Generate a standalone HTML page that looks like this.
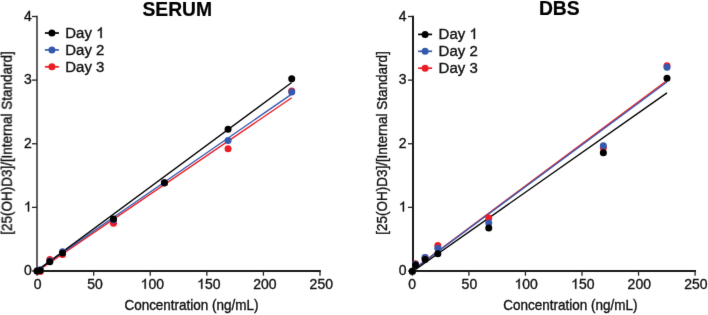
<!DOCTYPE html>
<html><head><meta charset="utf-8"><style>
html,body{margin:0;padding:0;background:#fff;width:708px;height:315px;overflow:hidden}
svg{display:block;will-change:transform}
text{font-family:"Liberation Sans",sans-serif;fill:#111111;stroke:#111111;stroke-width:0.35px}
.one{fill:#111111;stroke:#111111;stroke-width:50px}
.t{font-size:14px}
.lg{font-size:15px}
.ax{font-size:13.5px}
.title{font-size:19.3px;font-weight:bold;fill:#000;stroke:#000;stroke-width:0.2px}
</style></head><body>
<svg width="708" height="315" viewBox="0 0 708 315">
<defs><filter id="b" x="0" y="0" width="100%" height="100%" filterUnits="userSpaceOnUse" color-interpolation-filters="sRGB"><feConvolveMatrix order="3" kernelMatrix="0.00524 0.06192 0.00524 0.06192 0.73137 0.06192 0.00524 0.06192 0.00524" edgeMode="duplicate" preserveAlpha="true"/></filter></defs>
<rect width="708" height="315" fill="#fff"/>
<g filter="url(#b)">
<rect width="708" height="315" fill="#fff"/>
<line x1="37.0" y1="15.7" x2="37.0" y2="272" stroke="#606060" stroke-width="2"/>
<line x1="36.00" y1="271" x2="320.80" y2="271" stroke="#1c1c1c" stroke-width="2"/>
<line x1="32.00" y1="271.00" x2="37.0" y2="271.00" stroke="#222" stroke-width="1.3"/>
<text transform="translate(23.91,275.10) scale(1,1.035)" class="t">0</text>
<line x1="32.00" y1="207.38" x2="37.0" y2="207.38" stroke="#222" stroke-width="1.3"/>
<path class="one" transform="translate(23.91,211.47) scale(0.006836,-0.007075)" d="M763 0H583V1098Q518 1039 412 979T223 890V1057Q373 1125 485 1221T645 1409H763Z"/>
<line x1="32.00" y1="143.75" x2="37.0" y2="143.75" stroke="#222" stroke-width="1.3"/>
<text transform="translate(23.91,147.85) scale(1,1.035)" class="t">2</text>
<line x1="32.00" y1="80.12" x2="37.0" y2="80.12" stroke="#222" stroke-width="1.3"/>
<text transform="translate(23.91,84.22) scale(1,1.035)" class="t">3</text>
<line x1="32.00" y1="16.50" x2="37.0" y2="16.50" stroke="#222" stroke-width="1.3"/>
<text transform="translate(23.91,20.60) scale(1,1.035)" class="t">4</text>
<line x1="37.10" y1="271" x2="37.10" y2="275.7" stroke="#222" stroke-width="1.3"/>
<text transform="translate(33.85,288.80) scale(1,1.035)" class="t">0</text>
<line x1="93.68" y1="271" x2="93.68" y2="275.7" stroke="#222" stroke-width="1.3"/>
<text transform="translate(87.31,288.80) scale(1,1.035)" class="t">50</text>
<line x1="150.26" y1="271" x2="150.26" y2="275.7" stroke="#222" stroke-width="1.3"/>
<path class="one" transform="translate(140.60,288.80) scale(0.006836,-0.007075)" d="M763 0H583V1098Q518 1039 412 979T223 890V1057Q373 1125 485 1221T645 1409H763Z"/>
<text transform="translate(148.39,288.80) scale(1,1.035)" class="t" xml:space="preserve">00</text>
<line x1="206.84" y1="271" x2="206.84" y2="275.7" stroke="#222" stroke-width="1.3"/>
<path class="one" transform="translate(197.12,288.80) scale(0.006836,-0.007075)" d="M763 0H583V1098Q518 1039 412 979T223 890V1057Q373 1125 485 1221T645 1409H763Z"/>
<text transform="translate(204.91,288.80) scale(1,1.035)" class="t" xml:space="preserve">50</text>
<line x1="263.42" y1="271" x2="263.42" y2="275.7" stroke="#222" stroke-width="1.3"/>
<text transform="translate(253.20,288.80) scale(1,1.035)" class="t">200</text>
<line x1="320.00" y1="271" x2="320.00" y2="275.7" stroke="#222" stroke-width="1.3"/>
<text transform="translate(309.62,288.80) scale(1,1.035)" class="t">250</text>
<line x1="37.10" y1="271.32" x2="291.71" y2="97.74" stroke="#ec1c24" stroke-width="1.35"/>
<line x1="37.10" y1="270.20" x2="291.71" y2="94.09" stroke="#3559ad" stroke-width="1.35"/>
<line x1="37.10" y1="270.60" x2="291.71" y2="82.56" stroke="#000000" stroke-width="1.35"/>
<circle cx="37.10" cy="271.00" r="3.5" fill="#ec1c24"/>
<circle cx="40.28" cy="271.40" r="3.5" fill="#ec1c24"/>
<circle cx="49.83" cy="259.50" r="3.5" fill="#ec1c24"/>
<circle cx="62.56" cy="254.50" r="3.5" fill="#ec1c24"/>
<circle cx="113.48" cy="223.30" r="3.5" fill="#ec1c24"/>
<circle cx="164.41" cy="182.90" r="3.5" fill="#ec1c24"/>
<circle cx="228.06" cy="148.70" r="3.5" fill="#ec1c24"/>
<circle cx="291.71" cy="91.00" r="3.5" fill="#ec1c24"/>
<circle cx="37.10" cy="271.00" r="3.5" fill="#3559ad"/>
<circle cx="40.28" cy="269.80" r="3.5" fill="#3559ad"/>
<circle cx="49.83" cy="261.00" r="3.5" fill="#3559ad"/>
<circle cx="62.56" cy="251.70" r="3.5" fill="#3559ad"/>
<circle cx="113.48" cy="220.00" r="3.5" fill="#3559ad"/>
<circle cx="164.41" cy="182.80" r="3.5" fill="#3559ad"/>
<circle cx="228.06" cy="140.40" r="3.5" fill="#3559ad"/>
<circle cx="291.71" cy="92.00" r="3.5" fill="#3559ad"/>
<circle cx="37.10" cy="271.00" r="3.5" fill="#000000"/>
<circle cx="40.28" cy="270.50" r="3.5" fill="#000000"/>
<circle cx="49.83" cy="261.70" r="3.5" fill="#000000"/>
<circle cx="62.56" cy="253.00" r="3.5" fill="#000000"/>
<circle cx="113.48" cy="219.10" r="3.5" fill="#000000"/>
<circle cx="164.41" cy="182.70" r="3.5" fill="#000000"/>
<circle cx="228.06" cy="129.30" r="3.5" fill="#000000"/>
<circle cx="291.71" cy="78.70" r="3.5" fill="#000000"/>
<text transform="translate(142.4,16.0) scale(1,1.035)" class="title">SERUM</text>
<line x1="44.9" y1="33.00" x2="58.9" y2="33.00" stroke="#000000" stroke-width="1.7"/>
<circle cx="51.9" cy="33.00" r="3.5" fill="#000000"/>
<text transform="translate(65.30,38.00) scale(1,1.035)" class="lg" xml:space="preserve">Day </text>
<path class="one" transform="translate(96.14,38.00) scale(0.007324,-0.007581)" d="M763 0H583V1098Q518 1039 412 979T223 890V1057Q373 1125 485 1221T645 1409H763Z"/>
<line x1="44.9" y1="49.90" x2="58.9" y2="49.90" stroke="#3559ad" stroke-width="1.7"/>
<circle cx="51.9" cy="49.90" r="3.5" fill="#3559ad"/>
<text transform="translate(65.30,54.90) scale(1,1.035)" class="lg">Day 2</text>
<line x1="44.9" y1="66.80" x2="58.9" y2="66.80" stroke="#ec1c24" stroke-width="1.7"/>
<circle cx="51.9" cy="66.80" r="3.5" fill="#ec1c24"/>
<text transform="translate(65.30,71.80) scale(1,1.035)" class="lg">Day 3</text>
<text transform="translate(12.2,143) rotate(-90) scale(1,1.035)" text-anchor="middle" class="ax">[25(OH)D3]/[Internal Standard]</text>
<text transform="translate(124.4,310.4) scale(1,1.035)" class="ax">Concentration (ng/mL)</text>
<line x1="413.0" y1="15.7" x2="413.0" y2="272" stroke="#1a1a1a" stroke-width="2"/>
<line x1="412.00" y1="271" x2="696.00" y2="271" stroke="#1c1c1c" stroke-width="2"/>
<line x1="408.00" y1="271.00" x2="413.0" y2="271.00" stroke="#222" stroke-width="1.3"/>
<text transform="translate(398.81,275.10) scale(1,1.035)" class="t">0</text>
<line x1="408.00" y1="207.38" x2="413.0" y2="207.38" stroke="#222" stroke-width="1.3"/>
<path class="one" transform="translate(398.81,211.47) scale(0.006836,-0.007075)" d="M763 0H583V1098Q518 1039 412 979T223 890V1057Q373 1125 485 1221T645 1409H763Z"/>
<line x1="408.00" y1="143.75" x2="413.0" y2="143.75" stroke="#222" stroke-width="1.3"/>
<text transform="translate(398.81,147.85) scale(1,1.035)" class="t">2</text>
<line x1="408.00" y1="80.12" x2="413.0" y2="80.12" stroke="#222" stroke-width="1.3"/>
<text transform="translate(398.81,84.22) scale(1,1.035)" class="t">3</text>
<line x1="408.00" y1="16.50" x2="413.0" y2="16.50" stroke="#222" stroke-width="1.3"/>
<text transform="translate(398.81,20.60) scale(1,1.035)" class="t">4</text>
<line x1="412.35" y1="271" x2="412.35" y2="275.7" stroke="#222" stroke-width="1.3"/>
<text transform="translate(408.15,288.80) scale(1,1.035)" class="t">0</text>
<line x1="468.90" y1="271" x2="468.90" y2="275.7" stroke="#222" stroke-width="1.3"/>
<text transform="translate(461.61,288.80) scale(1,1.035)" class="t">50</text>
<line x1="525.45" y1="271" x2="525.45" y2="275.7" stroke="#222" stroke-width="1.3"/>
<path class="one" transform="translate(514.52,288.80) scale(0.006836,-0.007075)" d="M763 0H583V1098Q518 1039 412 979T223 890V1057Q373 1125 485 1221T645 1409H763Z"/>
<text transform="translate(522.31,288.80) scale(1,1.035)" class="t" xml:space="preserve">00</text>
<line x1="582.00" y1="271" x2="582.00" y2="275.7" stroke="#222" stroke-width="1.3"/>
<path class="one" transform="translate(571.12,288.80) scale(0.006836,-0.007075)" d="M763 0H583V1098Q518 1039 412 979T223 890V1057Q373 1125 485 1221T645 1409H763Z"/>
<text transform="translate(578.91,288.80) scale(1,1.035)" class="t" xml:space="preserve">50</text>
<line x1="638.55" y1="271" x2="638.55" y2="275.7" stroke="#222" stroke-width="1.3"/>
<text transform="translate(627.60,288.80) scale(1,1.035)" class="t">200</text>
<line x1="695.10" y1="271" x2="695.10" y2="275.7" stroke="#222" stroke-width="1.3"/>
<text transform="translate(684.22,288.80) scale(1,1.035)" class="t">250</text>
<line x1="412.35" y1="270.20" x2="667.00" y2="80.42" stroke="#ec1c24" stroke-width="1.35"/>
<line x1="412.35" y1="270.40" x2="667.00" y2="82.01" stroke="#3559ad" stroke-width="1.35"/>
<line x1="412.35" y1="271.62" x2="667.00" y2="92.90" stroke="#000000" stroke-width="1.35"/>
<circle cx="412.35" cy="271.20" r="3.5" fill="#ec1c24"/>
<circle cx="415.53" cy="263.80" r="3.5" fill="#ec1c24"/>
<circle cx="425.08" cy="257.60" r="3.5" fill="#ec1c24"/>
<circle cx="437.82" cy="245.40" r="3.5" fill="#ec1c24"/>
<circle cx="488.75" cy="218.00" r="3.5" fill="#ec1c24"/>
<circle cx="603.34" cy="147.80" r="3.5" fill="#ec1c24"/>
<circle cx="667.00" cy="65.70" r="3.5" fill="#ec1c24"/>
<circle cx="412.35" cy="271.20" r="3.5" fill="#3559ad"/>
<circle cx="415.53" cy="264.30" r="3.5" fill="#3559ad"/>
<circle cx="425.08" cy="257.40" r="3.5" fill="#3559ad"/>
<circle cx="437.82" cy="248.30" r="3.5" fill="#3559ad"/>
<circle cx="488.75" cy="223.00" r="3.5" fill="#3559ad"/>
<circle cx="603.34" cy="145.70" r="3.5" fill="#3559ad"/>
<circle cx="667.00" cy="67.30" r="3.5" fill="#3559ad"/>
<circle cx="412.35" cy="271.30" r="3.5" fill="#000000"/>
<circle cx="415.53" cy="264.90" r="3.5" fill="#000000"/>
<circle cx="425.08" cy="259.50" r="3.5" fill="#000000"/>
<circle cx="437.82" cy="253.70" r="3.5" fill="#000000"/>
<circle cx="488.75" cy="228.00" r="3.5" fill="#000000"/>
<circle cx="603.34" cy="152.70" r="3.5" fill="#000000"/>
<circle cx="667.00" cy="78.30" r="3.5" fill="#000000"/>
<text transform="translate(538.9,15.3) scale(1,1.035)" class="title">DBS</text>
<line x1="418.1" y1="34.40" x2="432.1" y2="34.40" stroke="#000000" stroke-width="1.7"/>
<circle cx="425.1" cy="34.40" r="3.5" fill="#000000"/>
<text transform="translate(438.60,38.90) scale(1,1.035)" class="lg" xml:space="preserve">Day </text>
<path class="one" transform="translate(469.44,38.90) scale(0.007324,-0.007581)" d="M763 0H583V1098Q518 1039 412 979T223 890V1057Q373 1125 485 1221T645 1409H763Z"/>
<line x1="418.1" y1="51.30" x2="432.1" y2="51.30" stroke="#3559ad" stroke-width="1.7"/>
<circle cx="425.1" cy="51.30" r="3.5" fill="#3559ad"/>
<text transform="translate(438.60,55.80) scale(1,1.035)" class="lg">Day 2</text>
<line x1="418.1" y1="68.20" x2="432.1" y2="68.20" stroke="#ec1c24" stroke-width="1.7"/>
<circle cx="425.1" cy="68.20" r="3.5" fill="#ec1c24"/>
<text transform="translate(438.60,72.70) scale(1,1.035)" class="lg">Day 3</text>
<text transform="translate(386.7,143) rotate(-90) scale(1,1.035)" text-anchor="middle" class="ax">[25(OH)D3]/[Internal Standard]</text>
<text transform="translate(503.3,310.4) scale(1,1.035)" class="ax">Concentration (ng/mL)</text>
</g>
</svg>
</body></html>
